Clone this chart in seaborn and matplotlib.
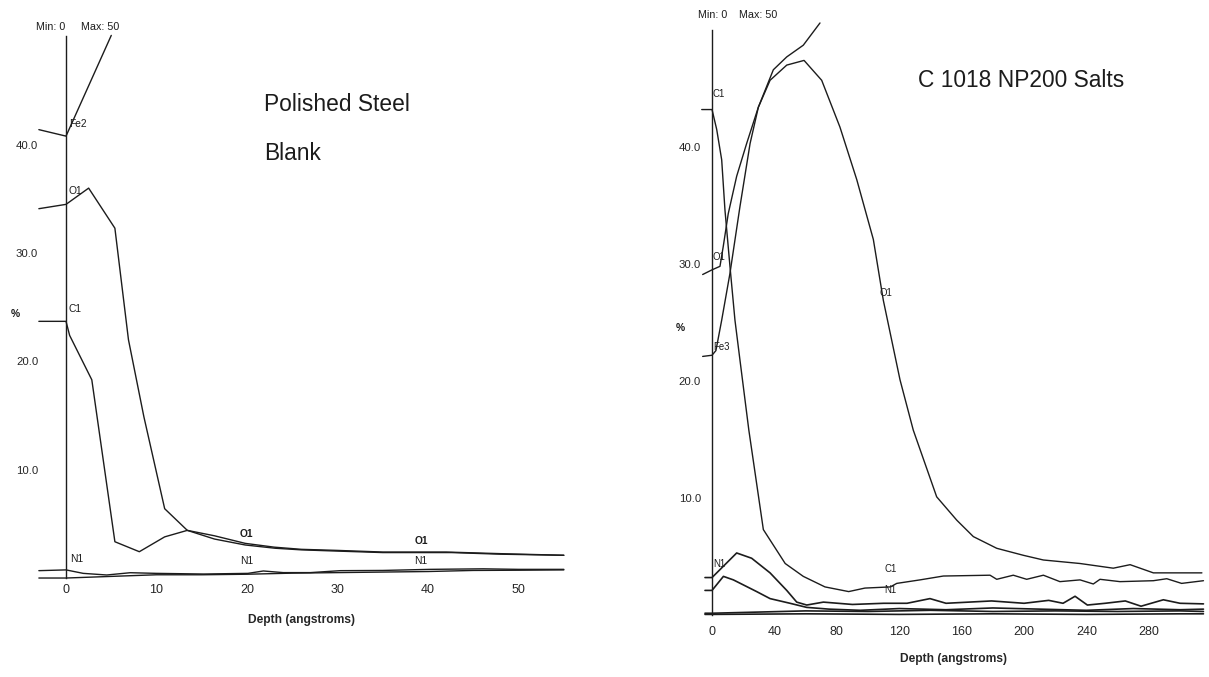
"""Depth profiles: polished steel blank vs C 1018 NP200 salts."""
import matplotlib
matplotlib.use("Agg")
import matplotlib.pyplot as plt
from matplotlib import font_manager
import seaborn as sns

# ---- left panel: Polished Steel Blank (depth in angstroms, %) ----
L_FE2_X = [-3.0, 0.0, 5.0]
L_FE2_Y = [41.4, 40.8, 50.1]
L_O1_X = [-3.0, 0.0, 2.5, 5.4, 6.9, 8.6, 10.9, 13.4, 16.4, 19.8, 23.1, 26.0, 29.5, 35.0, 42.6, 48.0, 55.0]
L_O1_Y = [34.1, 34.5, 36.0, 32.3, 22.0, 14.9, 6.4, 4.4, 3.6, 3.05, 2.75, 2.6, 2.5, 2.35, 2.35, 2.2, 2.1]
L_C1_X = [-3.0, 0.0, 0.4, 2.85, 5.4, 8.1, 10.9, 13.4, 16.4, 19.8, 23.0, 26.0, 30.0, 35.0, 42.0, 48.0, 55.0]
L_C1_Y = [23.7, 23.7, 22.4, 18.3, 3.35, 2.43, 3.8, 4.4, 3.9, 3.2, 2.85, 2.65, 2.55, 2.4, 2.4, 2.25, 2.1]
L_N1_X = [-3.0, 0.0, 1.9, 4.5, 7.1, 10.0, 15.2, 20.1, 21.8, 24.0, 27.0, 30.3, 35.0, 40.2, 46.1, 50.0, 55.0]
L_N1_Y = [0.68, 0.75, 0.43, 0.28, 0.49, 0.43, 0.37, 0.43, 0.65, 0.5, 0.5, 0.68, 0.7, 0.8, 0.85, 0.8, 0.8]
L_BASE_X = [-3.0, 0.0, 5.0, 10.0, 15.0, 20.0, 25.0, 30.0, 35.0, 40.0, 45.0, 50.0, 55.0]
L_BASE_Y = [0.0, 0.0, 0.15, 0.3, 0.3, 0.35, 0.45, 0.5, 0.55, 0.6, 0.7, 0.72, 0.75]
L_XTICKS = [0, 10, 20, 30, 40, 50]

# ---- right panel: C 1018 NP200 Salts ----
R_C1_X = [-6.6, 0.0, 3.0, 6.2, 8.3, 11.5, 14.7, 17.9, 23.6, 32.9, 46.9, 58.5, 72.4, 87.6, 98.0,
          114.3, 118.4, 133.3, 148.3, 178.2, 182.5, 193.1, 201.7, 212.4, 223.0, 235.9, 244.4,
          248.7, 261.5, 282.9, 291.5, 301.0, 315.0]
R_C1_Y = [43.2, 43.2, 41.5, 38.9, 34.6, 29.8, 25.2, 21.8, 15.8, 7.3, 4.4, 3.3, 2.4, 2.0, 2.3,
          2.4, 2.7, 3.0, 3.33, 3.4, 3.05, 3.4, 3.05, 3.4, 2.85, 3.0, 2.65,
          3.05, 2.85, 2.93, 3.1, 2.7, 2.93]
R_O1_X = [-6.0, 0.0, 5.1, 7.2, 10.4, 15.8, 22.2, 29.7, 37.2, 47.9, 59.0, 70.3, 82.0, 92.8, 103.4,
          109.8, 120.5, 129.0, 144.0, 156.9, 167.5, 182.5, 199.6, 212.4, 235.9, 257.2, 268.0,
          282.9, 314.0]
R_O1_Y = [29.1, 29.5, 29.8, 31.5, 34.3, 37.5, 40.3, 43.4, 45.7, 47.0, 47.4, 45.7, 41.7, 37.2, 32.1,
          26.9, 20.1, 15.8, 10.1, 8.1, 6.7, 5.7, 5.1, 4.7, 4.4, 4.0, 4.3,
          3.6, 3.6]
R_FE3_X = [-6.0, 0.0, 2.5, 6.2, 11.5, 17.9, 24.4, 29.7, 39.3, 47.9, 58.5, 69.2]
R_FE3_Y = [22.1, 22.2, 22.6, 25.2, 29.2, 34.9, 40.3, 43.4, 46.6, 47.7, 48.7, 50.6]
R_N1_X = [-4.5, 0.0, 15.8, 25.4, 37.2, 47.9, 54.3, 60.7, 71.4, 90.0, 110.0, 125.0, 139.7, 150.0,
          179.2, 200.0, 215.8, 225.0, 232.7, 240.6, 252.0, 264.9, 275.0, 289.3, 300.0, 315.0]
R_N1_Y = [3.2, 3.2, 5.3, 4.85, 3.6, 2.1, 1.1, 0.85, 1.1, 0.9, 1.0, 1.0, 1.4, 1.0,
          1.2, 1.0, 1.25, 1.0, 1.6, 0.85, 1.0, 1.2, 0.75, 1.3, 1.0, 0.95]
R_N1B_X = [-4.5, 0.0, 7.3, 13.7, 28.6, 37.2, 50.0, 60.7, 75.0, 95.0, 120.0, 150.0, 180.0, 210.0,
           240.0, 270.0, 300.0, 315.0]
R_N1B_Y = [2.1, 2.1, 3.3, 3.0, 2.0, 1.4, 1.0, 0.65, 0.5, 0.4, 0.55, 0.45, 0.6, 0.5,
           0.4, 0.55, 0.45, 0.5]
R_LOW_X = [-4.5, 0.0, 60.0, 100.0, 140.0, 180.0, 220.0, 260.0, 300.0, 315.0]
R_LOW_Y = [0.15, 0.15, 0.35, 0.3, 0.4, 0.3, 0.35, 0.3, 0.35, 0.3]
R_BASE_X = [-4.5, 0.0, 60.0, 120.0, 180.0, 240.0, 300.0, 315.0]
R_BASE_Y = [0.05, 0.05, 0.1, 0.05, 0.1, 0.05, 0.1, 0.1]
R_XTICKS = [0, 40, 80, 120, 160, 200, 240, 280]

Y_TICKS = [10, 20, 30, 40]
INK = '#1c1c1c'

sns.set_style('white')
_names = {f.name for f in font_manager.fontManager.ttflist}
if 'Liberation Sans Narrow' in _names:
    FONT, K = 'Liberation Sans Narrow', 1.0
else:
    FONT, K = 'Liberation Sans', 0.82
plt.rcParams['font.family'] = [FONT, 'DejaVu Sans']


def draw(ax, xs, ys, lw=1.0):
    sns.lineplot(x=xs, y=ys, ax=ax, color=INK, linewidth=lw, sort=False,
                 estimator=None, clip_on=False)


def style_axes(ax, xlim, xticks, ypad, xpad, labelpad, tick_len):
    ax.set_xlim(*xlim)
    ax.set_ylim(0, 50)
    for side in ['top', 'right', 'bottom']:
        ax.spines[side].set_visible(False)
    ax.spines['left'].set_position(('data', 0))
    ax.spines['left'].set_color(INK)
    ax.spines['left'].set_linewidth(1.0)
    ax.set_yticks(Y_TICKS)
    ax.set_yticklabels([f'{v:.1f}' for v in Y_TICKS], fontsize=10 * K)
    ax.set_xticks(xticks)
    ax.set_xticklabels([str(v) for v in xticks], fontsize=11 * K)
    ax.tick_params(axis='y', length=0, pad=ypad)
    ax.tick_params(axis='x', length=tick_len, direction='in', pad=xpad, color=INK)
    ax.set_xlabel('Depth (angstroms)', fontsize=10.5 * K, fontweight='bold', labelpad=labelpad)
    ax.set_ylabel('')
    ax.grid(False)


def tag(ax, x, y, s, size=9, **kw):
    ax.text(x, y, s, fontsize=size * K, color=INK, va='center', ha='left', **kw)


fig = plt.figure(figsize=(12.09, 6.77), dpi=100)

# left panel
ax1 = fig.add_axes([0.0284, 0.1462, 0.4417, 0.7999])
draw(ax1, L_FE2_X, L_FE2_Y)
draw(ax1, L_O1_X, L_O1_Y)
draw(ax1, L_C1_X, L_C1_Y)
draw(ax1, L_N1_X, L_N1_Y)
draw(ax1, L_BASE_X, L_BASE_Y)
style_axes(ax1, (-3.5, 55.5), L_XTICKS, ypad=20, xpad=4, labelpad=13, tick_len=0)
tag(ax1, 0.3, 41.9, 'Fe2')
tag(ax1, 0.3, 35.7, 'O1')
tag(ax1, 0.3, 24.8, 'C1')
tag(ax1, 0.5, 1.8, 'N1')
tag(ax1, 19.2, 1.6, 'N1')
tag(ax1, 38.5, 1.6, 'N1')
tag(ax1, 19.2, 4.1, 'O1', fontweight='bold')
tag(ax1, 38.5, 3.4, 'O1', fontweight='bold')
ax1.text(-5.6, 24.4, '%', fontsize=9 * K, fontweight='bold', color=INK, ha='center', va='center')
ax1.text(-1.7, 50.9, 'Min: 0', fontsize=9.5 * K, color=INK, ha='center', va='center')
ax1.text(3.8, 50.9, 'Max: 50', fontsize=9.5 * K, color=INK, ha='center', va='center')
ax1.text(21.9, 43.1, 'Polished Steel', fontsize=20 * K, color=INK, ha='left', va='baseline')
ax1.text(21.9, 38.6, 'Blank', fontsize=20 * K, color=INK, ha='left', va='baseline')

# right panel
ax2 = fig.add_axes([0.5799, 0.0916, 0.4168, 0.8641])
draw(ax2, R_C1_X, R_C1_Y)
draw(ax2, R_O1_X, R_O1_Y)
draw(ax2, R_FE3_X, R_FE3_Y)
draw(ax2, R_N1_X, R_N1_Y, lw=1.2)
draw(ax2, R_N1B_X, R_N1B_Y, lw=1.2)
draw(ax2, R_LOW_X, R_LOW_Y, lw=1.2)
draw(ax2, R_BASE_X, R_BASE_Y, lw=1.2)
style_axes(ax2, (-7, 316), R_XTICKS, ypad=8, xpad=8, labelpad=11, tick_len=4)
tag(ax2, 0.5, 44.5, 'C1', size=8.5)
tag(ax2, 0.5, 30.6, 'O1', size=8.5)
tag(ax2, 0.8, 22.9, 'Fe3', size=8.5)
tag(ax2, 0.6, 4.4, 'N1', size=8.5)
tag(ax2, 107.5, 27.5, 'O1', size=8.5)
tag(ax2, 110.5, 3.9, 'C1', size=8.5)
tag(ax2, 110.5, 2.1, 'N1', size=8.5)
ax2.text(-20.5, 24.5, '%', fontsize=9 * K, fontweight='bold', color=INK, ha='center', va='center')
ax2.text(0.3, 51.3, 'Min: 0', fontsize=9.5 * K, color=INK, ha='center', va='center')
ax2.text(29.8, 51.3, 'Max: 50', fontsize=9.5 * K, color=INK, ha='center', va='center')
ax2.text(132, 45.1, 'C 1018 NP200 Salts', fontsize=20 * K, color=INK, ha='left', va='baseline')

plt.savefig('out.png', dpi=100)
plt.close()
